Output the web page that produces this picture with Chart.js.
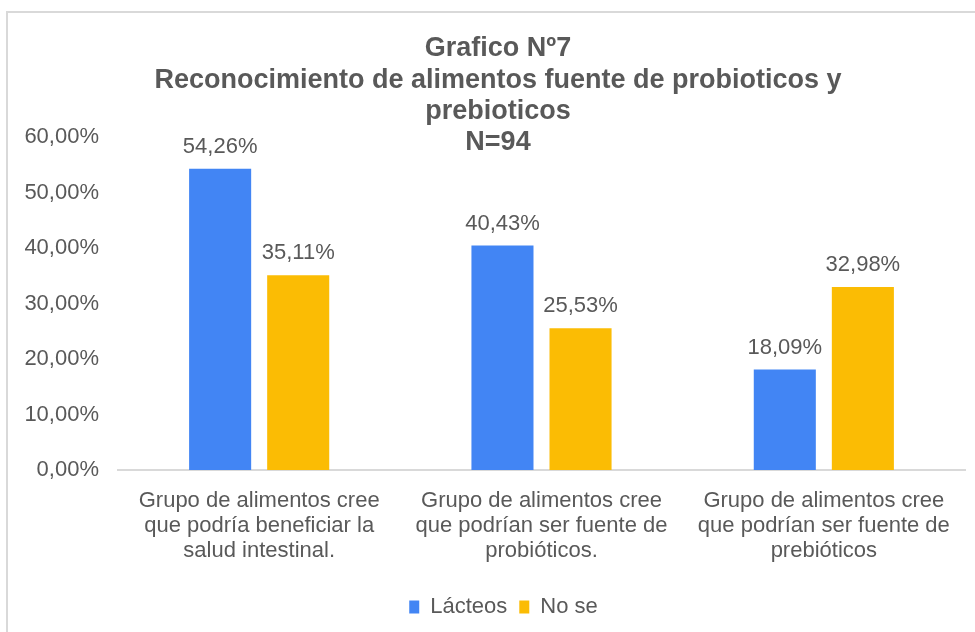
<!DOCTYPE html>
<html>
<head>
<meta charset="utf-8">
<script src="https://cdn.jsdelivr.net/npm/chart.js@4.4.0/dist/chart.umd.min.js"></script>
<style>
  html, body { margin: 0; padding: 0; background: #fff; overflow: hidden; }
  #wrap { position: absolute; left: 0; top: 0; width: 975px; height: 632px; }
</style>
</head>
<body>
<div id="wrap"><canvas id="grafico"></canvas></div>
<script>
// datos
var categorias = [
    ['Grupo de alimentos cree', 'que podría beneficiar la', 'salud intestinal.'],
    ['Grupo de alimentos cree', 'que podrían ser fuente de', 'probióticos.'],
    ['Grupo de alimentos cree', 'que podrían ser fuente de', 'prebióticos']
];
var lacteos = [0.5426, 0.4043, 0.1809];
var noSe = [0.3511, 0.2553, 0.3298];
var titulo = ['Grafico Nº7', 'Reconocimiento de alimentos fuente de probioticos y', 'prebioticos', 'N=94'];

var gris = '#595959';
var fuente = '"Liberation Sans", Arial, sans-serif';

function pct(v) {
    return (v * 100).toFixed(2).replace('.', ',') + '%';
}

// marco, titulo y etiquetas de datos
var extras = {
    id: 'extras',
    afterLayout: function (chart) {
        // la leyenda del original esta un poco a la derecha
        if (chart.legend) {
            chart.legend.left += 16;
            chart.legend.right += 16;
        }
    },
    beforeDraw: function (chart) {
        var c = chart.ctx;
        c.save();
        c.strokeStyle = '#d9d9d9';
        c.lineWidth = 2;
        c.beginPath();
        c.moveTo(7, 640);
        c.lineTo(7, 12);
        c.lineTo(980, 12);
        c.stroke();
        c.restore();
    },
    afterDraw: function (chart) {
        var c = chart.ctx;
        c.save();
        c.fillStyle = gris;
        c.textAlign = 'center';
        c.textBaseline = 'middle';
        c.font = 'bold 27px ' + fuente;
        var ys = [49, 81, 112, 143];
        titulo.forEach(function (t, i) {
            c.fillText(t, 498, ys[i]);
        });
        c.font = '22px ' + fuente;
        c.textBaseline = 'alphabetic';
        chart.data.datasets.forEach(function (ds, i) {
            chart.getDatasetMeta(i).data.forEach(function (bar, j) {
                c.fillText(pct(ds.data[j]), bar.x, bar.y - 16);
            });
        });
        c.restore();
    }
};

var ctx = document.getElementById('grafico').getContext('2d');
var myChart = new Chart(ctx, {
    type: 'bar',
    data: {
        labels: categorias,
        datasets: [{
            label: 'Lácteos',
            data: lacteos,
            backgroundColor: 'rgb(66, 133, 244)',
            categoryPercentage: 0.553,
            barPercentage: 0.795
        }, {
            label: 'No se',
            data: noSe,
            backgroundColor: 'rgb(251, 188, 4)',
            categoryPercentage: 0.553,
            barPercentage: 0.795
        }]
    },
    plugins: [extras],
    options: {
        responsive: true,
        maintainAspectRatio: false,
        animation: false,
        layout: {
            padding: { top: 137, left: 10, right: 10, bottom: 4 }
        },
        scales: {
            x: {
                grid: { display: false, drawTicks: false },
                border: { display: true, color: '#d9d9d9', width: 2 },
                ticks: {
                    color: gris,
                    font: { family: fuente, size: 22, lineHeight: 1.15 },
                    padding: 18,
                    maxRotation: 0
                },
                afterFit: function (scale) { scale.height = 114; }
            },
            y: {
                min: 0,
                max: 0.6,
                grid: { display: false, drawTicks: false },
                border: { display: false },
                ticks: {
                    stepSize: 0.1,
                    color: gris,
                    font: { family: fuente, size: 22 },
                    padding: 19,
                    callback: function (v) { return pct(v); }
                },
                afterFit: function (scale) { scale.width = 108; }
            }
        },
        plugins: {
            legend: {
                position: 'bottom',
                labels: {
                    color: gris,
                    font: { family: fuente, size: 22 },
                    boxWidth: 10,
                    boxHeight: 13,
                    padding: 12
                }
            },
            tooltip: { enabled: false }
        }
    }
});
</script>
</body>
</html>
